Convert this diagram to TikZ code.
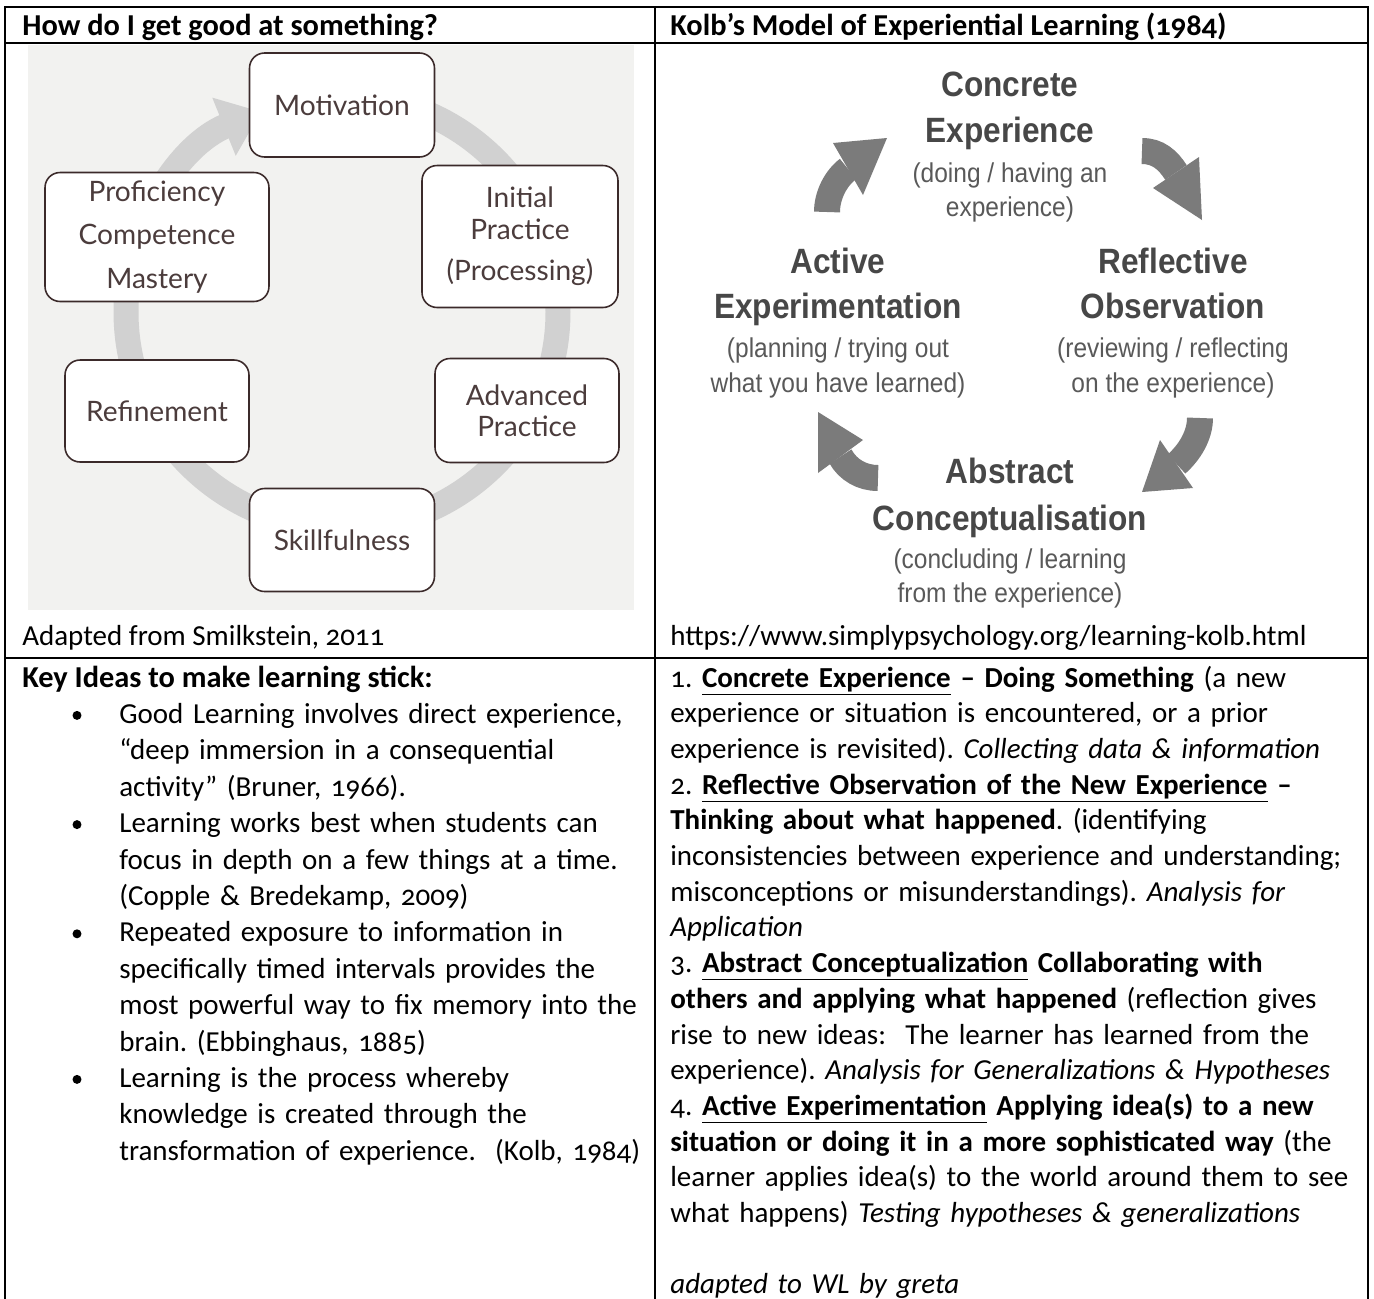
\documentclass[tikz,border=0pt]{standalone}
\usepackage{fontspec}
\setmainfont{Carlito}[Numbers=OldStyle]
\newfontfamily\cyclefont{Lato}
\newfontfamily\kolbfont{Liberation Sans}[FakeStretch=0.9]
\usetikzlibrary{arrows.meta, positioning}
\definecolor{boxline}{HTML}{3B2A2A}
\definecolor{cycletext}{HTML}{4B3C3C}
\definecolor{ringgrey}{HTML}{D1D1D1}
\definecolor{panelgrey}{HTML}{F2F2F0}
\definecolor{kolbgrey}{HTML}{7B7B7B}
\definecolor{kolbink}{HTML}{474747}
\definecolor{kolbsub}{HTML}{595959}
\frenchspacing

\begin{document}
\begin{tikzpicture}[x=0.02cm, y=-0.02cm,
    rule/.style={line width=0.8pt, black},
    headtext/.style={font=\bfseries\fontsize{17.3}{20}\selectfont, anchor=base west, inner sep=0pt},
    bodytext/.style={font=\fontsize{16.5}{20}\selectfont, anchor=base west, inner sep=0pt},
    stagebox/.style={draw=boxline, fill=white, rounded corners=0.3cm, line width=0.9pt, text=cycletext, align=center, inner sep=0pt},
    ring/.style={ringgrey, line width=0.5cm, -{Triangle[length=0.8cm, width=1.2cm]}},
    stagehead/.style={font=\kolbfont\bfseries\fontsize{20}{24}\selectfont, text=kolbink, anchor=base, inner sep=0pt},
    stagenote/.style={font=\kolbfont\fontsize{15.5}{19}\selectfont, text=kolbsub, anchor=base, inner sep=0pt},
    kolbshaft/.style={kolbgrey, line width=0.52cm},
    kolbhead/.style={fill=kolbgrey}]
  \useasboundingbox (0,0) rectangle (1374,1299);
  \fill[white] (0,0) rectangle (1374,1299);

  % table
  \draw[rule] (5,1299) -- (5,7) -- (1368,7) -- (1368,1299);
  \draw[rule] (5,43) -- (1368,43);
  \draw[rule] (5,658) -- (1368,658);
  \draw[rule] (655,7) -- (655,1299);
  \node[headtext] (lefthead) at (22,35) {How do I get good at something?};
  \node[headtext] (righthead) at (670,35) {Kolb’s Model of Experiential Learning (1984)};

  % cycle of getting good
  \fill[panelgrey] (28,45) rectangle (634,610);
  \draw[ring] (342,312) ++(-90:216) arc[start angle=-90, end angle=248, radius=216];
  \node[stagebox, minimum width=3.7cm, minimum height=2.08cm, font=\cyclefont\fontsize{16}{25}\selectfont] (motiv) at (342,105) {Motivation};
  \node[stagebox, minimum width=4.48cm, minimum height=2.58cm, font=\cyclefont\fontsize{16}{24.9}\selectfont] (profic) at (157,237) {Proficiency\\Competence\\Mastery};
  \node[stagebox, minimum width=3.92cm, minimum height=2.84cm, font=\cyclefont\fontsize{16}{18.2}\selectfont] (initial) at (520,236.5) {Initial\\Practice\\[5pt](Processing)};
  \node[stagebox, minimum width=3.68cm, minimum height=2.04cm, font=\cyclefont\fontsize{16}{17.6}\selectfont] (refine) at (157,411) {Refinement};
  \node[stagebox, minimum width=3.68cm, minimum height=2.08cm, font=\cyclefont\fontsize{16}{17.6}\selectfont] (advanced) at (527,410.5) {Advanced\\Practice};
  \node[stagebox, minimum width=3.7cm, minimum height=2.06cm, font=\cyclefont\fontsize{16}{17.6}\selectfont] (skill) at (342,540) {Skillfulness};
  \node[bodytext] (leftsource) at (22,645) {Adapted from Smilkstein, 2011};

  % Kolb cycle
  \node[stagehead] (ce1) at (1010,96) {Concrete};
  \node[stagehead] (ce2) at (1010,142) {Experience};
  \node[stagenote] (ce3) at (1010,182) {(doing / having an};
  \node[stagenote] (ce4) at (1010,216) {experience)};
  \node[stagehead] (ae1) at (838,273) {Active};
  \node[stagehead] (ae2) at (838,318) {Experimentation};
  \node[stagenote] (ae3) at (838,357) {(planning / trying out};
  \node[stagenote] (ae4) at (838,392) {what you have learned)};
  \node[stagehead] (ro1) at (1173,273) {Reflective};
  \node[stagehead] (ro2) at (1173,318) {Observation};
  \node[stagenote] (ro3) at (1173,357) {(reviewing / reflecting};
  \node[stagenote] (ro4) at (1173,392) {on the experience)};
  \node[stagehead] (ac1) at (1010,483) {Abstract};
  \node[stagehead] (ac2) at (1010,530) {Conceptualisation};
  \node[stagenote] (ac3) at (1010,568) {(concluding / learning};
  \node[stagenote] (ac4) at (1010,602) {from the experience)};
  % curved block arrows: tail, head base, head corners, tip
  \coordinate (aetail) at (827,212);
  \coordinate (cebase) at (848,169);
  \coordinate (cetip) at (887,138);
  \coordinate (cetail) at (1142,151);
  \coordinate (robase) at (1176,172.5);
  \coordinate (rotip) at (1202,220);
  \coordinate (rotail) at (1200,418);
  \coordinate (acbase) at (1176.5,464);
  \coordinate (actip) at (1142,492);
  \coordinate (actail) at (878,478);
  \coordinate (aebase) at (840.5,456.5);
  \coordinate (aetip) at (818,412);
  \draw[kolbshaft] (aetail) .. controls (827,195) and (836,178) .. (cebase);
  \fill[kolbhead] (833,143) -- (cetip) -- (863,195) -- cycle;
  \draw[kolbshaft] (cetail) .. controls (1158,151) and (1168,160) .. (robase);
  \fill[kolbhead] (1153,188) -- (rotip) -- (1199,157) -- cycle;
  \draw[kolbshaft] (rotail) .. controls (1200,435) and (1190,452) .. (acbase);
  \fill[kolbhead] (1160,440) -- (actip) -- (1193,488) -- cycle;
  \draw[kolbshaft] (actail) .. controls (862,478) and (848,470) .. (aebase);
  \fill[kolbhead] (818,473) -- (aetip) -- (863,440) -- cycle;
  \node[bodytext] (rightsource) at (670,645) {https://www.simplypsychology.org/learning-kolb.html};

  % key ideas
  \node[headtext] (keyhead) at (22,687) {Key Ideas to make learning stick:};
  \node[bodytext, font=\fontsize{16.5}{20.72}\selectfont, text width=12.5cm, align=left] (keylist) at (119,723.4) {Good Learning involves direct experience,\\
    “deep immersion in a consequential\\
    activity” (Bruner, 1966).\\
    Learning works best when students can\\
    focus in depth on a few things at a time.\\
    (Copple \& Bredekamp, 2009)\\
    Repeated exposure to information in\\
    specifically timed intervals provides the\\
    most powerful way to fix memory into the\\
    brain. (Ebbinghaus, 1885)\\
    Learning is the process whereby\\
    knowledge is created through the\\
    transformation of experience.\ \ (Kolb, 1984)};
  \foreach \k in {0,3,6,10} {\fill (77,723.4+36.4*\k-8) circle[radius=0.09cm];}

  % the four stages
  \node[bodytext, font=\fontsize{16.5}{20.32}\selectfont, text width=14cm, align=left] (stagelist) at (670,687) {1. \textbf{\underline{Concrete Experience} – Doing Something} (a new\\
    experience or situation is encountered, or a prior\\
    experience is revisited). \textit{Collecting data \& information}\\
    2. \textbf{\underline{Reflective Observation of the New Experience} –}\\
    \textbf{Thinking about what happened}. (identifying\\
    inconsistencies between experience and understanding;\\
    misconceptions or misunderstandings). \textit{Analysis for}\\
    \textit{Application}\\
    3. \textbf{\underline{Abstract Conceptualization} Collaborating with}\\
    \textbf{others and applying what happened} (reflection gives\\
    rise to new ideas:\ \ The learner has learned from the\\
    experience). \textit{Analysis for Generalizations \& Hypotheses}\\
    4. \textbf{\underline{Active Experimentation} Applying idea(s) to a new}\\
    \textbf{situation or doing it in a more sophisticated way} (the\\
    learner applies idea(s) to the world around them to see\\
    what happens) \textit{Testing hypotheses \& generalizations}\\
    \mbox{}\\
    \textit{adapted to WL by greta}};
\end{tikzpicture}
\end{document}
